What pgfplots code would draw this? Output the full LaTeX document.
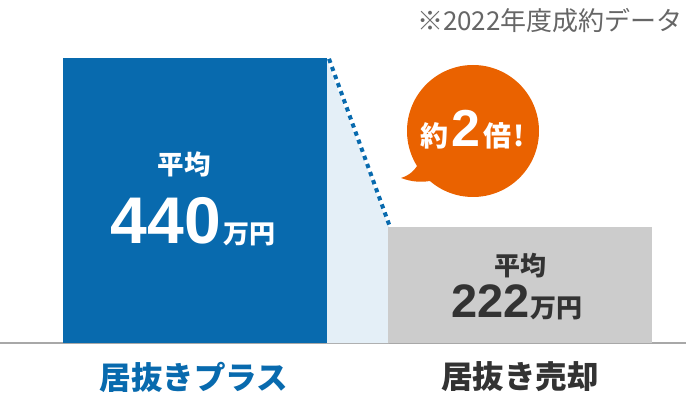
\documentclass[border=0pt]{standalone}
\usepackage{fontspec}
\setmainfont{Noto Sans CJK JP}
\newfontfamily\numfont{Liberation Sans}
\usepackage{pgfplots}
\pgfplotsset{compat=1.18}
\definecolor{barblue}{HTML}{086AAE}
\definecolor{bargray}{HTML}{CCCCCC}
\definecolor{lightfill}{HTML}{E4EFF7}
\definecolor{bubble}{HTML}{EA6200}
\definecolor{darktext}{HTML}{333333}
\definecolor{notegray}{HTML}{666666}
\definecolor{baseline}{HTML}{A8A8A8}
\begin{document}
\begin{tikzpicture}
\path[use as bounding box] (0,-53bp) rectangle (686bp,343bp);
\begin{axis}[
  at={(0,0)}, anchor=south west,
  width=686bp, height=343bp, scale only axis,
  xmin=0, xmax=686, ymin=72.4, ymax=514.9,
  axis x line*=bottom, axis y line=none,
  x axis line style={draw=baseline, line width=2bp},
  xtick={194,520},
  xticklabels={{\color{barblue}居抜きプラス},{\color{darktext}居抜き売却}},
  major tick length=0pt,
  ytick=\empty,
  xticklabel style={anchor=center, yshift=-34bp, font=\bfseries\fontsize{31.5bp}{31.5bp}\selectfont},
  clip mode=individual,
]
\addplot[fill=lightfill, draw=none, mark=none] coordinates {(326,440) (389,222) (389,72.4) (326,72.4)};
\addplot[ybar, bar width=264, bar shift=0pt, fill=barblue, draw=none] coordinates {(195,440)};
\addplot[ybar, bar width=264, bar shift=0pt, fill=bargray, draw=none] coordinates {(520,222)};
\addplot[barblue, mark=none, line width=4bp, dash pattern=on 4.3bp off 4.3bp] coordinates {(329,439) (390,222)};

\node[text=white, font=\bfseries\fontsize{26.5bp}{26.5bp}\selectfont] at (axis cs:184,303.3) {平均};
\node[text=white, anchor=base, inner sep=0pt] at (axis cs:193,201.4)
  {{\numfont\bfseries\fontsize{66bp}{66bp}\selectfont 440}\kern2bp{\bfseries\fontsize{26bp}{26bp}\selectfont 万円}};
\node[text=darktext, font=\bfseries\fontsize{26bp}{26bp}\selectfont] at (axis cs:520,171.7) {平均};
\node[text=darktext, anchor=base, inner sep=0pt] at (axis cs:517,105.9)
  {{\numfont\bfseries\fontsize{47bp}{47bp}\selectfont 222}\kern1bp{\bfseries\fontsize{26bp}{26bp}\selectfont 万円}};
\node[anchor=east, text=notegray, inner sep=0pt, font=\fontsize{26bp}{26bp}\selectfont] at (axis cs:683,489) {※2022年度成約データ};
\end{axis}
\begin{scope}[shift={(0,343bp)}, x=1bp, y=-1bp]
  \fill[bubble] (473,131) circle[radius=66];
  \fill[bubble] (420,160) .. controls (416,170) and (410,175) .. (401,178)
     .. controls (412,182) and (422,183) .. (435,180) -- (450,170) -- cycle;
  \node[text=white, anchor=base, inner sep=0pt] at (473,147)
    {{\bfseries\fontsize{28bp}{28bp}\selectfont 約}\kern3bp{\numfont\bfseries\fontsize{52bp}{52bp}\selectfont 2}\kern3bp{\bfseries\fontsize{28bp}{28bp}\selectfont 倍\kern2bp!}};
\end{scope}
\end{tikzpicture}
\end{document}
